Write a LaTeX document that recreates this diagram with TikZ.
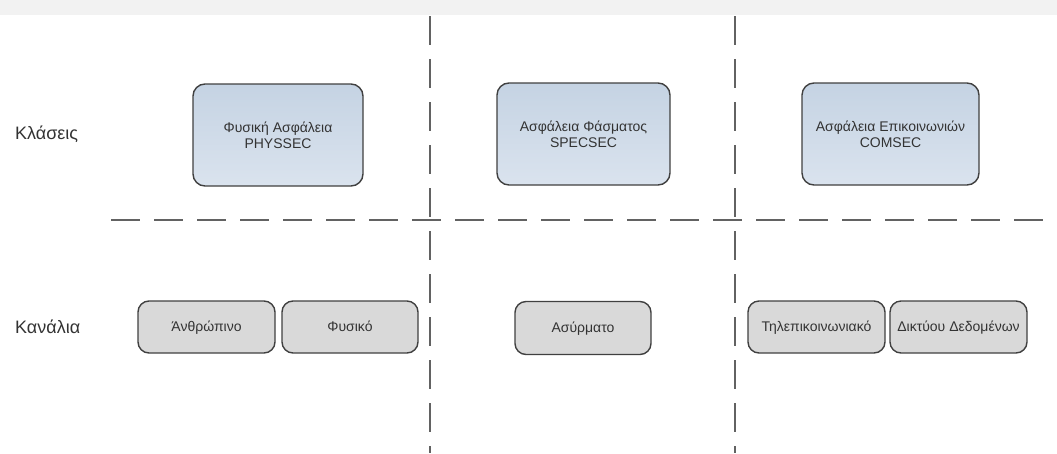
\documentclass[tikz,border=0pt]{standalone}
\usepackage{fontspec}
\setmainfont{Liberation Sans}
\definecolor{lineGray}{HTML}{626262}
\definecolor{boxEdge}{HTML}{404040}
\definecolor{classTop}{HTML}{C5D3E3}
\definecolor{classBottom}{HTML}{DAE3EE}
\definecolor{chanFill}{HTML}{D9D9D9}
\definecolor{bandGray}{HTML}{F2F2F2}
\definecolor{textGray}{HTML}{333333}
\tikzset{
  divider/.style={draw=lineGray, line width=2.2pt, dash pattern=on 29pt off 14pt},
  classbox/.style={draw=boxEdge, line width=1.4pt, rounded corners=12pt,
    top color=classTop, bottom color=classBottom, align=center, text=textGray,
    font=\fontsize{14}{16}\selectfont, inner sep=0pt},
  chanbox/.style={draw=boxEdge, line width=1.4pt, rounded corners=11pt,
    fill=chanFill, align=center, text=textGray, font=\fontsize{14}{16}\selectfont,
    inner sep=0pt, text height=11pt, text depth=3pt},
  rowlabel/.style={anchor=west, font=\fontsize{18}{20}\selectfont, text=textGray, inner sep=0pt},
}
\begin{document}
\begin{tikzpicture}[x=1pt,y=-1pt]
  \useasboundingbox (0,0) rectangle (1057,453);
  % light header band
  \fill[bandGray] (0,0) rectangle (1057,15);

  % row and column dividers
  \coordinate (hL) at (111,220);
  \coordinate (hR) at (1048,220);
  \coordinate (v1T) at (430,16);
  \coordinate (v1B) at (430,453);
  \coordinate (v2T) at (735,16);
  \coordinate (v2B) at (735,453);
  \draw[divider] (hL) -- (hR);
  \draw[divider] (v1T) -- (v1B);
  \draw[divider] (v2T) -- (v2B);

  % row labels
  \node[rowlabel] (klaseis) at (15,134) {Κλάσεις};
  \node[rowlabel] (kanalia) at (15,327) {Κανάλια};

  % classes
  \node[classbox, minimum width=170pt, minimum height=102pt] (phys) at (278,135)
    {Φυσική Ασφάλεια\\PHYSSEC};
  \node[classbox, minimum width=173pt, minimum height=102pt] (spec) at (583.5,134)
    {Ασφάλεια Φάσματος\\SPECSEC};
  \node[classbox, minimum width=177pt, minimum height=102pt] (com) at (890.5,134)
    {Ασφάλεια Επικοινωνιών\\COMSEC};

  % channels
  \node[chanbox, minimum width=137pt, minimum height=52pt] (human) at (206.5,327) {Άνθρώπινο};
  \node[chanbox, minimum width=136pt, minimum height=52pt] (physical) at (350,327) {Φυσικό};
  \node[chanbox, minimum width=136pt, minimum height=53pt] (wireless) at (583,328) {Ασύρματο};
  \node[chanbox, minimum width=137pt, minimum height=52pt] (telecom) at (816.5,327) {Τηλεπικοινωνιακό};
  \node[chanbox, minimum width=137pt, minimum height=52pt] (data) at (958.5,327) {Δικτύου Δεδομένων};
\end{tikzpicture}
\end{document}
